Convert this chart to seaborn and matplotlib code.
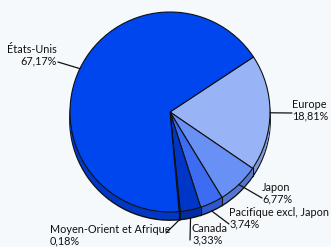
import numpy as np
import matplotlib.pyplot as plt
import seaborn as sns

# Répartition géographique (%)
regions = ["Europe", "Japon", "Pacifique excl. Japon", "Canada",
           "Moyen-Orient et Afrique", "États-Unis"]
parts = [18.81, 6.77, 3.74, 3.33, 0.18, 67.17]

couleurs_dessus = ["#99B3F7", "#6990F5", "#3B6CF2", "#0036C8", "#00208A", "#0046EE"]
couleurs_cote = ["#7E98DA", "#5577D0", "#2E58CC", "#002CA5", "#001A70", "#0038C4"]

# position des étiquettes (pixels, origine en bas à gauche) et alignement
pos_etiq = {
    "Europe": (292, 137, "left"),
    "Japon": (262, 54, "left"),
    "Pacifique excl. Japon": (229, 29, "left"),
    "Canada": (192, 13, "left"),
    "Moyen-Orient et Afrique": (50, 12, "left"),
    "États-Unis": (57, 192, "right"),
}
fin_ligne = {
    "Europe": (292, 134),
    "Japon": (262, 49),
    "Pacifique excl. Japon": (229, 23),
    "Canada": (190, 7),
    "Moyen-Orient et Afrique": (166, 14),
    "États-Unis": (58, 185),
}

sns.set_style("white")
plt.rcParams['font.family'] = ['Lato', 'DejaVu Sans']
fond = "#F5F9FC"

fig = plt.figure(figsize=(3.31, 2.47), dpi=100, facecolor=fond)
ax = fig.add_axes([0, 0, 1, 1])
ax.set_facecolor(fond)

cx, cy, R, prof = 170, 135, 100, 8
depart = 33.4

# épaisseur du camembert (effet 3D)
ax.pie(parts, colors=sns.color_palette(couleurs_cote), startangle=depart,
       counterclock=False, center=(cx, cy - prof), radius=R,
       wedgeprops=dict(edgecolor="#111111", linewidth=1.3))
for k in np.arange(prof - 0.6, 0, -0.5):
    ax.pie(parts, colors=sns.color_palette(couleurs_cote), startangle=depart,
           counterclock=False, center=(cx, cy - k), radius=R,
           wedgeprops=dict(edgecolor="none", linewidth=0))

# arêtes verticales aux limites des parts
bornes = depart - np.cumsum([0] + parts) * 3.6
for a in bornes:
    r = np.deg2rad(a)
    if np.sin(r) < 0:
        x = cx + R * np.cos(r)
        y = cy + R * np.sin(r)
        ax.plot([x, x], [y, y - prof], color="#111111", lw=0.8)

# dessus
ax.pie(parts, colors=sns.color_palette(couleurs_dessus), startangle=depart,
       counterclock=False, center=(cx, cy), radius=R,
       wedgeprops=dict(edgecolor="#111111", linewidth=0.8))

# étiquettes et lignes de rappel
milieux = depart - (np.cumsum(parts) - np.array(parts) / 2) * 3.6
for nom, val, a in zip(regions, parts, milieux):
    r = np.deg2rad(a)
    x0 = cx + R * np.cos(r)
    y0 = cy + R * np.sin(r)
    if np.sin(r) < -0.8:
        y0 -= prof
    x1, y1 = fin_ligne[nom]
    ax.plot([x0, x1], [y0, y1], color="#111111", lw=0.9)
    tx, ty, ha = pos_etiq[nom]
    texte = f"{nom}\n{val:.2f}%".replace(".", ",")
    ax.text(tx, ty, texte, ha=ha, va="center", multialignment=ha,
            fontsize=7.8, color="#111111", linespacing=1.0)

ax.set_xlim(0, 331)
ax.set_ylim(0, 247)
ax.set_aspect("auto")
ax.axis("off")

fig.savefig("out.png", dpi=100, facecolor=fond)
